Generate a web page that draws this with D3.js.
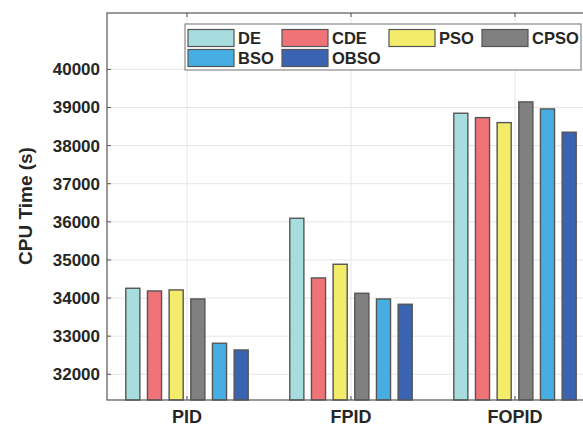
<!DOCTYPE html>
<html>
<head>
<meta charset="utf-8">
<script src="https://cdn.jsdelivr.net/npm/d3@7"></script>
<style>
  body { margin: 0; background: #fff; }
  text { font-family: "Liberation Sans", Arial, sans-serif; font-weight: bold; fill: #262626; }
</style>
</head>
<body>
<svg id="chart" width="583" height="427"></svg>
<script>
// data
var groups = ["PID", "FPID", "FOPID"];
var series = ["DE", "CDE", "PSO", "CPSO", "BSO", "OBSO"];
var colors = ["#a8dde0", "#f07378", "#f3ec6b", "#808080", "#46aee2", "#3a63b1"];
var pidValues   = [34257, 34186, 34213, 33976, 32814, 32638];
var fpidValues  = [36094, 34528, 34887, 34126, 33976, 33837];
var fopidValues = [38850, 38735, 38604, 39147, 38963, 38352];
var yTicks = [32000, 33000, 34000, 35000, 36000, 37000, 38000, 39000, 40000];

var valuesByGroup = [pidValues, fpidValues, fopidValues];
var rows = [];
groups.forEach(function(g, gi) {
  series.forEach(function(s, si) {
    rows.push({ group: g, series: s, value: valuesByGroup[gi][si] });
  });
});

var svg = d3.select("#chart");
var pLeft = 107, pTop = 13, pBottom = 400, pRight = 598;

var x = d3.scaleBand().domain(groups).range([105, 597]);
var xs = d3.scaleBand().domain(series).range([-65, 65])
           .paddingInner(0.35).paddingOuter(0.175);
var y = d3.scaleLinear().domain([31325, 41480]).range([pBottom, pTop]);
var color = d3.scaleOrdinal().domain(series).range(colors);

// grid
svg.append("g").selectAll("line")
  .data(yTicks).enter().append("line")
    .attr("x1", pLeft).attr("x2", pRight)
    .attr("y1", d => y(d)).attr("y2", d => y(d))
    .attr("stroke", "#e6e6e6").attr("stroke-width", 1);
svg.append("g").selectAll("line")
  .data(groups).enter().append("line")
    .attr("x1", d => x(d) + x.bandwidth() / 2).attr("x2", d => x(d) + x.bandwidth() / 2)
    .attr("y1", pTop).attr("y2", pBottom)
    .attr("stroke", "#e6e6e6").attr("stroke-width", 1);

// bars
svg.append("g").selectAll("rect")
  .data(rows).enter().append("rect")
    .attr("x", d => x(d.group) + x.bandwidth() / 2 + xs(d.series))
    .attr("width", xs.bandwidth())
    .attr("y", d => y(d.value))
    .attr("height", d => pBottom - y(d.value))
    .attr("fill", d => color(d.series))
    .attr("stroke", "#555")
    .attr("stroke-width", 1.4);

// frame
svg.append("rect")
  .attr("x", pLeft).attr("y", pTop)
  .attr("width", pRight - pLeft).attr("height", pBottom - pTop)
  .attr("fill", "none").attr("stroke", "#555").attr("stroke-width", 1.2);

// ticks (inside)
svg.append("g").selectAll("line")
  .data(yTicks).enter().append("line")
    .attr("x1", pLeft).attr("x2", pLeft + 4)
    .attr("y1", d => y(d)).attr("y2", d => y(d))
    .attr("stroke", "#555");
groups.forEach(function(g) {
  var cx = x(g) + x.bandwidth() / 2;
  svg.append("line").attr("x1", cx).attr("x2", cx).attr("y1", pBottom).attr("y2", pBottom - 4).attr("stroke", "#555");
  svg.append("line").attr("x1", cx).attr("x2", cx).attr("y1", pTop).attr("y2", pTop + 4).attr("stroke", "#555");
});

// tick labels
svg.append("g").selectAll("text")
  .data(yTicks).enter().append("text")
    .attr("x", 100).attr("y", d => y(d))
    .attr("dy", "0.35em")
    .attr("text-anchor", "end")
    .attr("font-size", 17)
    .text(d => d);
svg.append("g").selectAll("text")
  .data(groups).enter().append("text")
    .attr("x", d => x(d) + x.bandwidth() / 2)
    .attr("y", 423)
    .attr("text-anchor", "middle")
    .attr("font-size", 18)
    .text(d => d);

svg.append("text")
  .attr("transform", "translate(32," + 206 + ") rotate(-90)")
  .attr("text-anchor", "middle")
  .attr("font-size", 19)
  .text("CPU Time (s)");

// legend
var legend = svg.append("g");
legend.append("rect")
  .attr("x", 185).attr("y", 24).attr("width", 396).attr("height", 46)
  .attr("fill", "#fff").attr("stroke", "#888").attr("stroke-width", 1.2);
var colX = [188, 282, 389, 482];
var item = legend.selectAll("g.item")
  .data(series).enter().append("g")
    .attr("transform", (d, i) => "translate(" + colX[i % 4] + "," + (38 + Math.floor(i / 4) * 20) + ")");
item.append("rect")
  .attr("x", 0).attr("y", -8.5).attr("width", 46).attr("height", 17)
  .attr("fill", d => color(d)).attr("stroke", "#555").attr("stroke-width", 1.2);
item.append("text")
  .attr("x", 50).attr("y", 0).attr("dy", "0.36em")
  .attr("font-size", 16.5)
  .text(d => d);
</script>
</body>
</html>
